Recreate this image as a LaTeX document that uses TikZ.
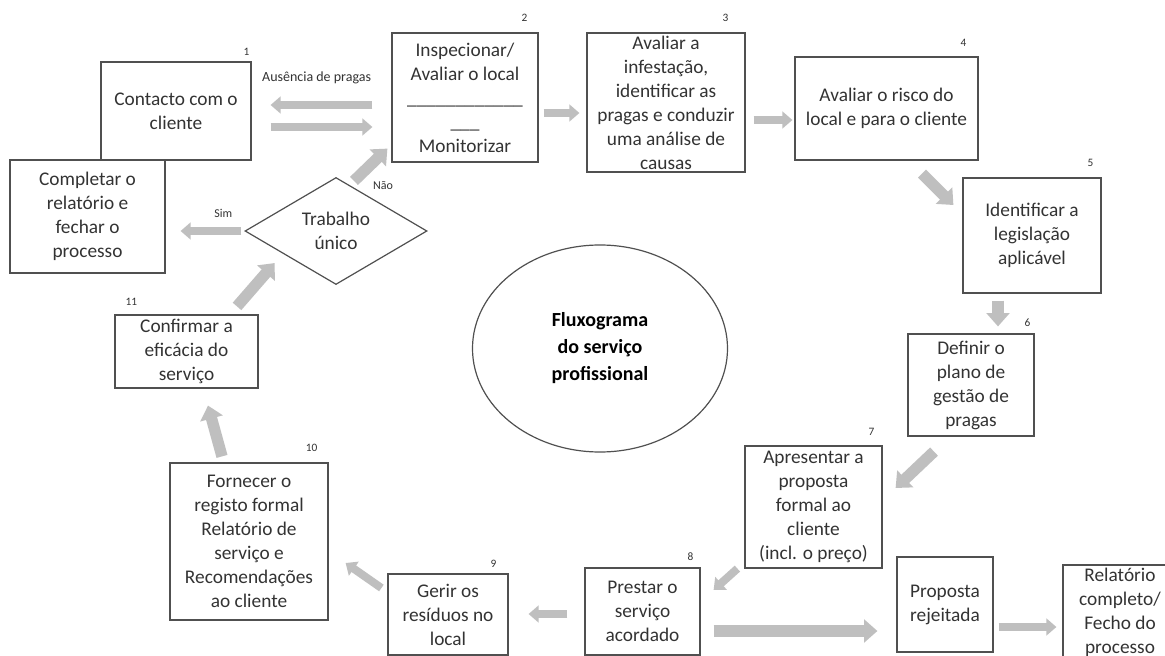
\documentclass[tikz,border=0pt]{standalone}
\usepackage{fontspec}
\setmainfont{Carlito}
\usetikzlibrary{arrows.meta,shapes.geometric,calc}
\definecolor{arrgray}{HTML}{BFBFBF}
\definecolor{linegray}{HTML}{505050}
\definecolor{txtgray}{HTML}{333333}
\begin{document}
\begin{tikzpicture}[x=0.75pt,y=-0.75pt,
 box/.style={draw=linegray,line width=0.9pt,align=center,inner sep=0pt,text=txtgray,font=\fontsize{14.5}{18}\selectfont},
 num/.style={text=txtgray,font=\fontsize{8.5}{10}\selectfont,inner sep=0pt},
 lbl/.style={text=txtgray,font=\fontsize{9}{11}\selectfont,inner sep=0pt},
 garrow/.style={draw=arrgray,line width=6pt,-{Triangle[width=12.5pt,length=7.5pt]}},
 garrowb/.style={draw=arrgray,line width=8.5pt,-{Triangle[width=17pt,length=10pt]}},
]
\useasboundingbox (0,0) rectangle (1165,656);
\clip (0,0) rectangle (1165,656);
\fill[white] (0,0) rectangle (1165,656);

% boxes
\node[box,minimum width=112.5pt,minimum height=73.5pt] (b1) at (176,111) {Contacto com o\\cliente};
\node[box,minimum width=116.25pt,minimum height=84.75pt] (bc) at (87.5,216.5) {Completar o\\relatório e\\fechar o\\processo};
\node[box,minimum width=109.5pt,minimum height=96.75pt] (b2) at (465,97.5) {Inspecionar/\\Avaliar o local\\\_\_\_\_\_\_\_\_\_\_\_\_\\\_\_\_\\Monitorizar};
\node[box,minimum width=118.5pt,minimum height=104.25pt] (b3) at (666,102.5) {Avaliar a\\infestação,\\identificar as\\pragas e conduzir\\uma análise de\\causas};
\node[box,minimum width=137.25pt,minimum height=77.25pt] (b4) at (886.5,108.5) {Avaliar o risco do\\local e para o cliente};
\node[box,minimum width=103.5pt,minimum height=86.25pt] (b5) at (1032,235.5) {Identificar a\\legislação\\aplicável};
\node[box,minimum width=94.5pt,minimum height=76.5pt] (b6) at (971,385) {Definir o\\plano de\\gestão de\\pragas};
\node[box,minimum width=102.75pt,minimum height=91.5pt] (b7) at (813.5,507) {Apresentar a\\proposta\\formal ao\\cliente\\(incl. o preço)};
\node[box,minimum width=86.25pt,minimum height=65.25pt] (b8) at (642.5,611.5) {Prestar o\\serviço\\acordado};
\node[box,minimum width=90pt,minimum height=60.75pt] (b9) at (448,614.5) {Gerir os\\resíduos no\\local};
\node[box,minimum width=72pt,minimum height=71.25pt] (bpr) at (945,604.5) {Proposta\\rejeitada};
\node[box,minimum width=85.5pt,minimum height=70.5pt] (bfin) at (1120,612) {Relatório\\completo/\\Fecho do\\processo};
\node[box,minimum width=118.5pt,minimum height=117.75pt] (b10) at (249,541.5) {Fornecer o\\registo formal\\Relatório de\\serviço e\\Recomendações\\ao cliente};
\node[box,minimum width=107.25pt,minimum height=54.75pt] (b11) at (186.5,351.5) {Confirmar a\\eficácia do\\serviço};

\node[box,shape=diamond,shape aspect=1.7,minimum width=136.5pt,minimum height=80.25pt] (dia) at (336,231) {Trabalho\\único};

\node[draw=linegray,line width=0.9pt,ellipse,minimum width=191.25pt,minimum height=155.25pt,inner sep=0pt,align=center,text=black,font=\bfseries\fontsize{15}{20.25}\selectfont] (ell) at (600,348.5) {Fluxograma\\do serviço\\profissional};

% numbers
\node[num] (n1) at ($(b1.north east)+(-5,-10)$) {1};
\node[num] (n2) at ($(b2.north east)+(-14,-15)$) {2};
\node[num] (n3) at ($(b3.north east)+(-20,-15)$) {3};
\node[num] (n4) at ($(b4.north east)+(-15,-14)$) {4};
\node[num] (n5) at ($(b5.north east)+(-11,-14)$) {5};
\node[num] (n6) at ($(b6.north east)+(-7,-11)$) {6};
\node[num] (n7) at ($(b7.north east)+(-11,-14)$) {7};
\node[num] (n8) at ($(b8.north east)+(-10,-11)$) {8};
\node[num] (n9) at ($(b9.north east)+(-15,-10)$) {9};
\node[num] (n10) at ($(b10.north east)+(-17,-15)$) {10};
\node[num] (n11) at ($(b11.north west)+(17,-13)$) {11};

% labels
\node[lbl,font=\fontsize{10.5}{12}\selectfont] (lausencia) at ($(b1.north east)+(65,16)$) {Ausência de pragas};
\node[lbl] (lsim) at ($(dia.west)+(-21,-18)$) {Sim};
\node[lbl] (lnao) at ($(dia.north)+(47,9)$) {Não};

% arrows
\draw[garrow] ($(b2.west)+(-19,7.5)$) -- ($(b1.east)+(19,-6)$);
\draw[garrow] ($(b1.east)+(19,16)$) -- ($(b2.west)+(-19,29.5)$);
\draw[garrow] ($(b2.east)+(5,15.5)$) -- ($(b3.west)+(-7,10.5)$);
\draw[garrow] ($(b3.east)+(8,17.5)$) -- ($(b4.west)+(-2,11.5)$);
\draw[garrowb] ($(b4.south)+(35.5,13)$) -- ($(b5.west)+(-9,-30.5)$);
\draw[garrowb] ($(b5.south)+(-34,7)$) -- ($(b6.north)+(27,-7)$);
\draw[garrowb] ($(b6.south)+(-37,15)$) -- ($(b7.east)+(13,-19)$);
\draw[garrow] ($(b7.south west)+(-7,0)$) -- ($(b8.east)+(13,-21.5)$);
\draw[garrow] ($(b8.west)+(-17,2.5)$) -- ($(b9.east)+(20,-0.5)$);
\draw[garrowb] ($(b8.east)+(13,19.5)$) -- ($(bpr.west)+(-19,26.5)$);
\draw[garrow] ($(bpr.east)+(5,22.5)$) -- ($(bfin.west)+(-6,15)$);
\draw[garrow] ($(b9.west)+(-6,-26.5)$) -- ($(b10.east)+(17,21.5)$);
\draw[garrowb] ($(b10.north)+(-27,-6)$) -- ($(b11.south)+(21.5,17)$);
\draw[garrowb] ($(b11.north)+(50.5,-8)$) -- ($(dia.south west)+(-15.5,5)$);
\draw[garrow] ($(dia.west)+(-3,0)$) -- ($(bc.east)+(15,14.5)$);
\draw[garrowb] ($(dia.north)+(18,4)$) -- ($(b2.south west)+(-4,-14)$);
\end{tikzpicture}
\end{document}
